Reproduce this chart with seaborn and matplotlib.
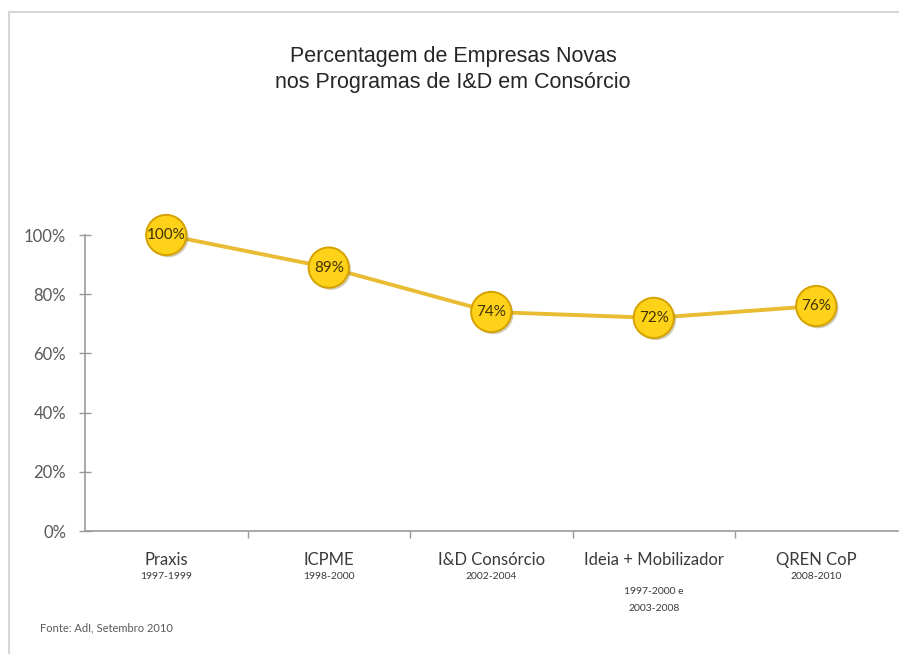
import matplotlib
matplotlib.use("Agg")
import matplotlib.pyplot as plt
import matplotlib.patheffects as pe
from matplotlib.patches import Rectangle
import matplotlib.transforms as mtransforms
import seaborn as sns
import pandas as pd

# ---- data ----
programas = ["Praxis", "ICPME", "I&D Consórcio", "Ideia + Mobilizador", "QREN CoP"]
periodos = ["1997-1999", "1998-2000", "2002-2004", "1997-2000 e\n2003-2008", "2008-2010"]
percentagem = [1.00, 0.89, 0.74, 0.72, 0.76]
rotulos = ["100%", "89%", "74%", "72%", "76%"]
y_ticks = [0.0, 0.2, 0.4, 0.6, 0.8, 1.0]
y_tick_labels = ["0%", "20%", "40%", "60%", "80%", "100%"]

df = pd.DataFrame({"x": range(len(programas)), "programa": programas, "valor": percentagem})

sns.set_theme(style="white")
plt.rcParams["font.family"] = ["Lato", "DejaVu Sans"]

W, H = 899, 654
fig = plt.figure(figsize=(W / 100, H / 100), dpi=100)
ax = fig.add_axes([85 / W, 1 - 531 / H, 812.5 / W, (531 - 235) / H])

# frame of the chart area (only top/left visible in the crop)
fig.patches.append(Rectangle((9 / W, -0.1), 1.2, (1 - 12 / H) + 0.1, transform=fig.transFigure,
                             fill=False, edgecolor="#d6d6d6", linewidth=1.5))

line_col = "#E9BC34"
sns.lineplot(data=df, x="x", y="valor", ax=ax, color=line_col, linewidth=2.8,
             sort=False, zorder=2, clip_on=False)
sns.scatterplot(data=df, x="x", y="valor", ax=ax, s=29 ** 2, color="#FFD21A",
                edgecolor="#D4A200", linewidth=1.4, zorder=3, clip_on=False,
                path_effects=[pe.SimplePatchShadow(offset=(1.5, -1.5), alpha=0.35, shadow_rgbFace="#7a6a30"), pe.Normal()])

for xi, v, lab in zip(df["x"], percentagem, rotulos):
    ax.text(xi, v, lab, ha="center", va="center", fontsize=11, color="#3f3200", zorder=4)

ax.set_xlim(-0.5, len(programas) - 0.5)
ax.set_ylim(0, 1.0)
ax.set_xlabel("")
ax.set_ylabel("")

ax.set_yticks(y_ticks)
ax.set_yticklabels(y_tick_labels)
ax.tick_params(axis="y", direction="inout", length=9, width=1, color="#999999",
               labelsize=12, labelcolor="#595959", pad=9, left=True)

ax.set_xticks([i - 0.5 for i in range(1, len(programas))], minor=False)
ax.set_xticklabels([])
ax.tick_params(axis="x", direction="out", length=5, width=1, color="#999999", bottom=True)

trans = mtransforms.blended_transform_factory(ax.transData, ax.transAxes)
for i, (p, per) in enumerate(zip(programas, periodos)):
    ax.text(i, -0.07, p, transform=trans, ha="center", va="top", fontsize=12, color="#3a3a3a")
    if "\n" in per:
        ax.text(i, -0.19, per, transform=trans, ha="center", va="top", fontsize=7.5,
                color="#3a3a3a", linespacing=2.1)
    else:
        ax.text(i, -0.14, per, transform=trans, ha="center", va="top", fontsize=7.5, color="#3a3a3a")

for side in ["top", "right"]:
    ax.spines[side].set_visible(False)
for side in ["left", "bottom"]:
    ax.spines[side].set_color("#999999")
    ax.spines[side].set_linewidth(1.2)

fig.text(453 / W, 1 - 46 / H, "Percentagem de Empresas Novas\nnos Programas de I&D em Consórcio",
         ha="center", va="top", fontsize=15.5, color="#262626", family=["Liberation Sans", "DejaVu Sans"],
         linespacing=1.3)

fig.text(40 / W, 1 - 628 / H, "Fonte: AdI, Setembro 2010", ha="left", va="center", fontsize=8, color="#595959")

fig.savefig("out.png", dpi=100)
